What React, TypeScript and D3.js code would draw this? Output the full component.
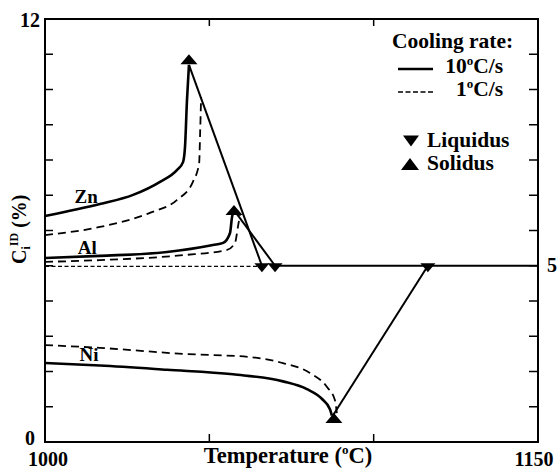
import React from "react";
import * as d3 from "d3";

// ---- data (temperature °C, concentration %) ----
const tempDomain = [1000, 1150];
const concDomain = [0, 12];
const tempTicks = [1000, 1050, 1100, 1150];
const concTicks = d3.range(0, 13);
const bottomTickLabels = [1000, 1150];
const leftTickLabels = [0, 12];
const rightTickLabels = [5];

const znFast: [number, number][] = [
  [1000, 6.41], [1016.7, 6.75], [1026.8, 7.01], [1035.0, 7.38], [1040.2, 7.72],
  [1042.0, 7.94], [1042.6, 8.37], [1043.2, 9.7], [1043.8, 10.7],
];
const znSlow: [number, number][] = [
  [1000, 5.87], [1016.7, 6.1], [1031.9, 6.5], [1040.2, 6.87], [1045.0, 7.38],
  [1046.9, 7.91], [1047.2, 8.77], [1047.5, 9.79],
];
const alFast: [number, number][] = [
  [1000, 5.22], [1016.7, 5.28], [1037.1, 5.39], [1051.1, 5.59], [1054.2, 5.65],
  [1056.3, 5.93], [1056.9, 6.38], [1057.5, 6.58],
];
const alSlow: [number, number][] = [
  [1000, 5.11], [1016.7, 5.16], [1042.0, 5.3], [1055.4, 5.45], [1057.8, 5.65],
  [1058.7, 6.1], [1059.3, 6.44],
];
const niFast: [number, number][] = [
  [1000, 2.24], [1016.7, 2.17], [1037.1, 2.05], [1057.2, 1.92], [1072.4, 1.72],
  [1079.7, 1.5], [1084.3, 1.22], [1086.7, 0.93], [1087.3, 0.75],
];
const niSlow: [number, number][] = [
  [1000, 2.75], [1016.7, 2.67], [1042.0, 2.5], [1062.4, 2.41], [1072.4, 2.24],
  [1080.6, 1.96], [1085.8, 1.56], [1088.2, 1.19], [1088.8, 0.82],
];
// straight solidus -> liquidus connectors
const znConnector: [number, number][] = [[1043.8, 10.7], [1066.0, 5.0]];
const alConnector: [number, number][] = [[1057.5, 6.58], [1070.0, 5.0]];
const niConnector: [number, number][] = [[1087.6, 0.75], [1116.5, 5.0]];
const nominalDashed: [number, number][] = [[1000, 4.98], [1066.0, 4.98]];
const nominalSolid: [number, number][] = [[1070.0, 5.0], [1150, 5.0]];

const solidusPoints: [number, number][] = [[1043.8, 10.86], [1057.5, 6.58], [1087.9, 0.68]];
const liquidusPoints: [number, number][] = [[1066.0, 5.0], [1070.0, 5.0], [1116.5, 5.0]];

const elementLabels = [
  { name: "Zn", t: 1009, c: 6.78 },
  { name: "Al", t: 1010, c: 5.32 },
  { name: "Ni", t: 1010.5, c: 2.3 },
];

const W = 558;
const H = 469;
const FONT = "'Liberation Serif', 'Times New Roman', Times, serif";

export default function App() {
  const x = d3.scaleLinear().domain(tempDomain).range([45, 538]);
  const y = d3.scaleLinear().domain(concDomain).range([442, 19]);
  const line = d3
    .line<[number, number]>()
    .x((d) => x(d[0]))
    .y((d) => y(d[1]))
    .curve(d3.curveMonotoneX);
  const straight = d3
    .line<[number, number]>()
    .x((d) => x(d[0]))
    .y((d) => y(d[1]));

  const up = (cx: number, cy: number, w = 17, h = 10) =>
    `M${cx - w / 2},${cy + h / 2}L${cx + w / 2},${cy + h / 2}L${cx},${cy - h / 2}Z`;
  const down = (cx: number, cy: number, w = 15, h = 9) =>
    `M${cx - w / 2},${cy - h / 2}L${cx + w / 2},${cy - h / 2}L${cx},${cy + h / 2}Z`;

  const [x0, x1] = x.range();
  const [yb, yt] = y.range();

  return (
    <svg
      width={W}
      height={H}
      style={{ position: "absolute", left: 0, top: 0, background: "#fff" }}
      fontFamily={FONT}
      fontWeight="bold"
    >
      {/* frame */}
      <rect x={x0} y={yt} width={x1 - x0} height={yb - yt} fill="none" stroke="#000" strokeWidth={2} />
      {/* y ticks left & right */}
      {concTicks.slice(1, -1).map((c) => (
        <g key={"yt" + c}>
          <line x1={x0} x2={x0 + 8} y1={y(c)} y2={y(c)} stroke="#000" strokeWidth={1.5} />
          <line x1={x1} x2={x1 - 9} y1={y(c)} y2={y(c)} stroke="#000" strokeWidth={1.5} />
        </g>
      ))}
      {/* x ticks top & bottom */}
      {tempTicks.slice(1, -1).map((t) => (
        <g key={"xt" + t}>
          <line x1={x(t)} x2={x(t)} y1={yb} y2={yb - 8} stroke="#000" strokeWidth={1.5} />
          <line x1={x(t)} x2={x(t)} y1={yt} y2={yt + 7} stroke="#000" strokeWidth={1.5} />
        </g>
      ))}
      {/* tick labels */}
      {leftTickLabels.map((c) => (
        <text key={"lt" + c} x={x0 - (c === 0 ? 10 : 5)} y={y(c) + (c === 0 ? 3 : 8)} textAnchor="end" fontSize={20}>
          {c}
        </text>
      ))}
      {rightTickLabels.map((c) => (
        <text key={"rt" + c} x={x1 + 9} y={y(c) + 6} fontSize={20}>
          {c}
        </text>
      ))}
      {bottomTickLabels.map((t) => (
        <text key={"bt" + t} x={x(t) + (t === 1000 ? 3 : -4)} y={466} textAnchor="middle" fontSize={20}>
          {t}
        </text>
      ))}
      {/* axis titles */}
      <text x={288} y={463} textAnchor="middle" fontSize={22.5}>
        Temperature (<tspan dy={-9} fontSize={13}>o</tspan>
        <tspan dy={9}>C)</tspan>
      </text>
      <text transform="translate(26,264) rotate(-90)" fontSize={20}>
        C<tspan dy={4} fontSize={12}>i</tspan>
        <tspan dy={-12} fontSize={12}>ID</tspan>
        <tspan dy={8}> (%)</tspan>
      </text>

      {/* nominal composition lines */}
      <path d={straight(nominalDashed) || ""} fill="none" stroke="#000" strokeWidth={1.3} strokeDasharray="4,2.5" />
      <path d={straight(nominalSolid) || ""} fill="none" stroke="#000" strokeWidth={2} />

      {/* slow (1°C/s) dashed curves */}
      {[znSlow, alSlow, niSlow].map((d, i) => (
        <path key={"s" + i} d={line(d) || ""} fill="none" stroke="#000" strokeWidth={1.8} strokeDasharray="8,5" />
      ))}
      {/* fast (10°C/s) solid curves */}
      {[znFast, alFast, niFast].map((d, i) => (
        <path key={"f" + i} d={line(d) || ""} fill="none" stroke="#000" strokeWidth={2.6} />
      ))}
      {/* connectors */}
      {[znConnector, alConnector, niConnector].map((d, i) => (
        <path key={"c" + i} d={straight(d) || ""} fill="none" stroke="#000" strokeWidth={2} />
      ))}
      {/* markers */}
      {solidusPoints.map((p, i) => (
        <path key={"sol" + i} d={up(x(p[0]), y(p[1]))} fill="#000" />
      ))}
      {liquidusPoints.map((p, i) => (
        <path key={"liq" + i} d={down(x(p[0]), y(p[1]) + 2)} fill="#000" />
      ))}
      {/* element labels */}
      {elementLabels.map((l) => (
        <text key={l.name} x={x(l.t)} y={y(l.c)} fontSize={19}>
          {l.name}
        </text>
      ))}

      {/* legend */}
      <text x={392} y={48} fontSize={21.5}>
        Cooling rate:
      </text>
      <line x1={398} x2={433} y1={69} y2={69} stroke="#000" strokeWidth={2.5} />
      <text x={503} y={73} textAnchor="end" fontSize={21.5}>
        10<tspan dy={-8} fontSize={13}>o</tspan>
        <tspan dy={8}>C/s</tspan>
      </text>
      <line x1={398} x2={433} y1={92} y2={92} stroke="#000" strokeWidth={1.3} strokeDasharray="5,2.5" />
      <text x={503} y={96} textAnchor="end" fontSize={21.5}>
        1<tspan dy={-8} fontSize={13}>o</tspan>
        <tspan dy={8}>C/s</tspan>
      </text>
      <path d={down(411, 141, 16, 11)} fill="#000" />
      <text x={427} y={147} fontSize={21.5}>
        Liquidus
      </text>
      <path d={up(410, 164, 18, 12)} fill="#000" />
      <text x={427} y={170} fontSize={21.5}>
        Solidus
      </text>
    </svg>
  );
}
